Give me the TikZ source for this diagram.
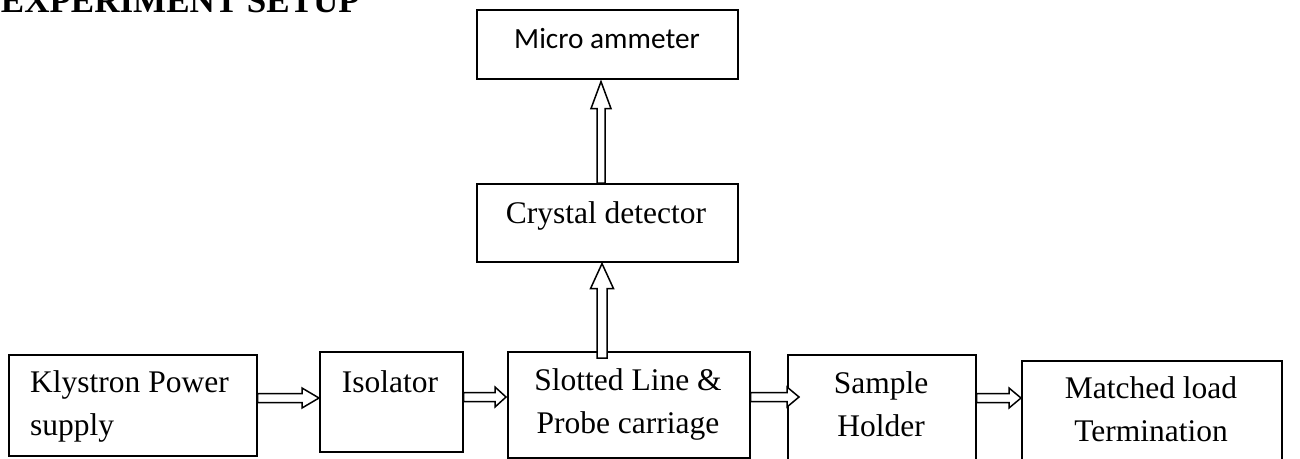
\documentclass[tikz,border=0pt]{standalone}
\usepackage{fontspec}
\setmainfont{Liberation Serif}
\newfontfamily\calibrifont{Carlito}
\usetikzlibrary{calc}

\tikzset{
  box/.style={draw, line width=1.6pt, rectangle, inner sep=0pt, anchor=north west},
  lbl/.style={font=\fontsize{31.5}{42.5}\selectfont, inner sep=0pt},
  conn/.style={draw, fill=white, line width=1.5pt, line join=miter},
}

% Hollow horizontal arrow: from east side of #1 to tip x of #2.west + #3,
% head length #4, at height y = #5 (pt, negative down)
\newcommand\hollowH[5]{%
  \path[conn] let \p1=(#1.east), \p2=(#2.west) in
    (\x1,#5+4.5pt) -- (\x2+#3-#4,#5+4.5pt) -- (\x2+#3-#4,#5+10pt) --
    (\x2+#3,#5) -- (\x2+#3-#4,#5-10pt) -- (\x2+#3-#4,#5-4.5pt) --
    (\x1,#5-4.5pt) -- cycle;}
% Hollow vertical arrow: from north side of #1 (start offset #3) up to the
% south side of #2 (tip offset #4), head length #5, x = #6,
% shaft half-width #7, head half-width #8
\newcommand\hollowV[8]{%
  \path[conn] let \p1=(#1.north), \p2=(#2.south) in
    (#6-#7,\y1+#3) -- (#6-#7,\y2+#4-#5) -- (#6-#8,\y2+#4-#5) --
    (#6,\y2+#4) -- (#6+#8,\y2+#4-#5) -- (#6+#7,\y2+#4-#5) --
    (#6+#7,\y1+#3) -- cycle;}

\begin{document}
\begin{tikzpicture}[x=1pt,y=1pt]
  \clip (0,0) rectangle (1300,-458);
  \fill[white] (0,0) rectangle (1300,-458);

  % heading
  \node[font=\fontsize{35}{40}\bfseries\selectfont, inner sep=0pt, anchor=base east]
    (title) at (360,-12) {EXPERIMENT SETUP};

  % blocks
  \node[box, minimum width=261pt, minimum height=69pt] (meter)   at (476,-9)   {};
  \node[box, minimum width=261pt, minimum height=78pt] (crystal) at (476,-183) {};
  \node[box, minimum width=248pt, minimum height=101pt] (kly)    at (8,-354)   {};
  \node[box, minimum width=143pt, minimum height=100pt] (iso)    at (319,-351) {};
  \node[box, minimum width=242pt, minimum height=106pt] (slot)   at (507,-351) {};
  \node[box, minimum width=188pt, minimum height=120pt] (holder) at (787,-354) {};
  \node[box, minimum width=260pt, minimum height=120pt] (load)   at (1021,-360) {};

  % labels (base anchor sits on the last line's baseline)
  \node[inner sep=0pt, anchor=base, font=\calibrifont\fontsize{29.3}{34}\selectfont]
    (meterT) at (607,-48) {Micro ammeter};
  \node[lbl, anchor=base] (crystalT) at (606,-223) {Crystal detector};
  \node[lbl, anchor=base west, align=left] (klyT) at (30,-435) {Klystron Power\\supply};
  \node[lbl, anchor=base] (isoT) at (390,-392) {Isolator};
  \node[lbl, anchor=base, align=center] (slotT) at (628,-433) {Slotted Line \&\\Probe carriage};
  \node[lbl, anchor=base, align=center] (holderT) at (881,-436) {Sample\\Holder};
  \node[lbl, anchor=base, align=center] (loadT) at (1151,-441) {Matched load\\Termination};

  % connectors
  \hollowH{kly}{iso}{0pt}{17pt}{-398pt}
  \hollowH{iso}{slot}{-1pt}{11pt}{-397pt}
  \hollowH{slot}{holder}{12pt}{12pt}{-397pt}
  \hollowH{holder}{load}{0pt}{12pt}{-398pt}
  \hollowV{slot}{crystal}{-7pt}{-1pt}{25pt}{602pt}{5pt}{11.5pt}
  \hollowV{crystal}{meter}{0pt}{-2pt}{27pt}{601pt}{4pt}{10pt}
\end{tikzpicture}
\end{document}
